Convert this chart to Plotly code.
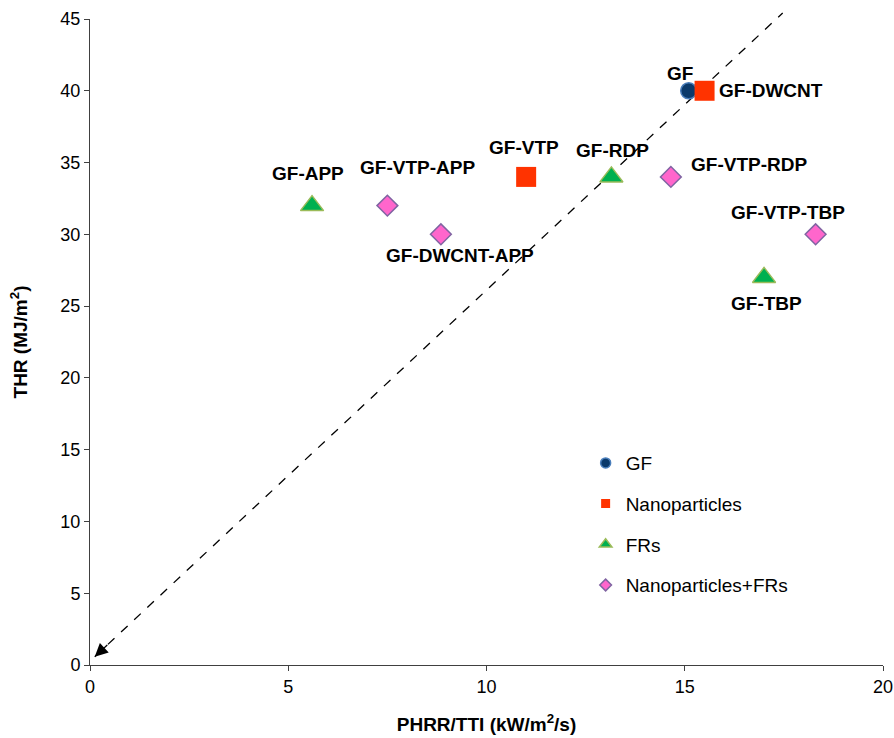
import plotly.graph_objects as go

# ---- data ----
gf_x = [15.1]
gf_y = [40]
gf_names = ["GF"]

nano_x = [15.5, 11.0]
nano_y = [40, 34]
nano_names = ["GF-DWCNT", "GF-VTP"]

fr_x = [5.6, 13.15, 17.0]
fr_y = [32, 34, 27]
fr_names = ["GF-APP", "GF-RDP", "GF-TBP"]

nanofr_x = [7.5, 8.85, 14.65, 18.3]
nanofr_y = [32, 30, 34, 30]
nanofr_names = ["GF-VTP-APP", "GF-DWCNT-APP", "GF-VTP-RDP", "GF-VTP-TBP"]

series_names = ["GF", "Nanoparticles", "FRs", "Nanoparticles+FRs"]

# guide line (tip near origin, other end top right)
guide_x = [0.12, 17.47]
guide_y = [0.58, 45.42]

x_ticks = [0, 5, 10, 15, 20]
y_ticks = [0, 5, 10, 15, 20, 25, 30, 35, 40, 45]
Y_MAX = 45

FONT = "Liberation Sans, Arial, sans-serif"

styles = [
    dict(symbol="circle", size=16, color="#0b3a6b", line=dict(color="#4a7ebb", width=1.5)),
    dict(symbol="square", size=20, color="#ff3300", line=dict(color="#ff3300", width=0)),
    dict(symbol="triangle-up", size=20, color="#00b050", line=dict(color="#9bbb59", width=1.5)),
    dict(symbol="diamond", size=16, color="#ff66cc", line=dict(color="#8064a2", width=1.5)),
]
legend_sizes = [10, 9, 11, 9]

fig = go.Figure()

groups = [(gf_x, gf_y), (nano_x, nano_y), (fr_x, fr_y), (nanofr_x, nanofr_y)]
for (xs, ys), st, nm in zip(groups, styles, series_names):
    fig.add_trace(go.Scatter(
        x=xs, y=ys, mode="markers", name=nm, showlegend=False,
        marker=dict(symbol=st["symbol"], size=st["size"], color=st["color"], line=st["line"]),
        cliponaxis=False,
    ))

# legend-only traces with small symbols
for st, nm, ls in zip(styles, series_names, legend_sizes):
    fig.add_trace(go.Scatter(
        x=[None], y=[None], mode="markers", name=nm, legendgroup=nm,
        marker=dict(symbol=st["symbol"], size=ls, color=st["color"], line=st["line"]),
    ))

# dashed guide line as a shape (paper y so it may run past the top)
fig.add_shape(
    type="line", xref="x", yref="paper",
    x0=guide_x[0], x1=guide_x[1],
    y0=guide_y[0] / Y_MAX, y1=guide_y[1] / Y_MAX,
    line=dict(color="black", width=1.3, dash="dash"),
    layer="below",
)

# label offsets (px): (xshift, yshift, xanchor)
label_offsets = {
    "GF": (-9, 17, "center"),
    "GF-DWCNT": (12, 0, "left"),
    "GF-VTP": (-2, 29, "center"),
    "GF-APP": (-4, 32, "center"),
    "GF-RDP": (1, 26, "center"),
    "GF-TBP": (2, -26, "center"),
    "GF-VTP-APP": (30, 38, "center"),
    "GF-DWCNT-APP": (19, -21, "center"),
    "GF-VTP-RDP": (18, 12, "left"),
    "GF-VTP-TBP": (-28, 22, "center"),
}

annotations = []
for xs, ys, names in [(gf_x, gf_y, gf_names), (nano_x, nano_y, nano_names),
                      (fr_x, fr_y, fr_names), (nanofr_x, nanofr_y, nanofr_names)]:
    for x, y, n in zip(xs, ys, names):
        dx, dy, xa = label_offsets[n]
        annotations.append(dict(
            x=x, y=y, xref="x", yref="y", text=n, showarrow=False,
            xanchor=xa, yanchor="middle", xshift=dx, yshift=dy,
            font=dict(family=FONT, size=19, color="black", weight="bold"),
        ))

# arrow head at the origin end of the guide line
annotations.append(dict(
    x=guide_x[0], y=guide_y[0], xref="x", yref="y", text="",
    showarrow=True, arrowhead=2, arrowsize=2, arrowwidth=1.3, arrowcolor="black",
    ax=14, ay=-13, standoff=0,
))

axis_common = dict(
    showgrid=False, zeroline=False, showline=True, linecolor="#404040", linewidth=1,
    ticks="outside", ticklen=5, tickcolor="#404040", tickwidth=1,
    tickfont=dict(family=FONT, size=18, color="black"),
)

fig.update_layout(
    width=894, height=738,
    margin=dict(l=90, r=11, t=19, b=73, autoexpand=False),
    paper_bgcolor="white", plot_bgcolor="white",
    xaxis=dict(range=[0, 20], tickvals=x_ticks, automargin=False,
               title=dict(text="PHRR/TTI (kW/m<sup>2</sup>/s)", standoff=22,
                          font=dict(family=FONT, size=19, color="black", weight="bold")),
               **axis_common),
    yaxis=dict(range=[0, Y_MAX], tickvals=y_ticks, automargin=False,
               title=dict(text="THR (MJ/m<sup>2</sup>)", standoff=27,
                          font=dict(family=FONT, size=19, color="black", weight="bold")),
               **axis_common),
    legend=dict(x=0.625, y=0.342, xanchor="left", yanchor="top",
                bgcolor="rgba(0,0,0,0)", tracegroupgap=13,
                font=dict(family=FONT, size=19, color="black")),
    annotations=annotations,
    showlegend=True,
)

fig.write_html(
    "out.html",
    config={"displayModeBar": False},
    post_script="document.body.style.margin='0';document.body.style.overflow='hidden';",
)
